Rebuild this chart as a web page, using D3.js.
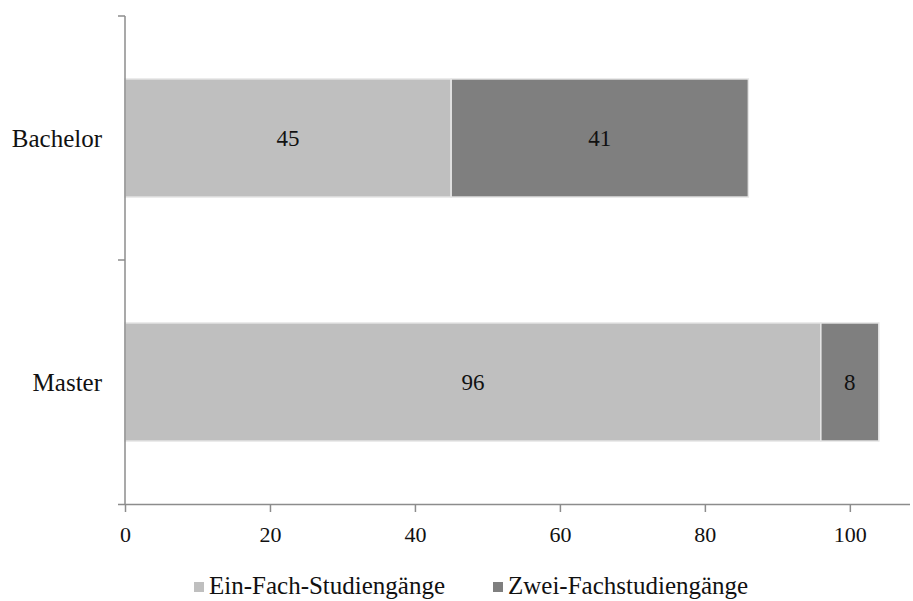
<!DOCTYPE html>
<html>
<head>
<meta charset="utf-8">
<script src="https://cdn.jsdelivr.net/npm/d3@7"></script>
<style>
  body { margin: 0; background: #fff; }
  svg text { font-family: "Liberation Serif", "Times New Roman", serif; fill: #111; }
</style>
</head>
<body>
<svg id="chart" width="913" height="601"></svg>
<script>
// data
const categories = ['Bachelor', 'Master'];
const seriesNames = ['Ein-Fach-Studiengänge', 'Zwei-Fachstudiengänge'];
const einFach = [45, 96];
const zweiFach = [41, 8];
const xTicks = [0, 20, 40, 60, 80, 100];

const colors = ['#bfbfbf', '#7f7f7f'];
const AXIS = '#8c8c8c';
const FONT = '"Liberation Serif", "Times New Roman", serif';

const svg = d3.select('svg#chart');

const x = d3.scaleLinear().domain([0, 108.3]).range([125, 910]);
const y = d3.scaleBand().domain(categories).range([16, 504])
  .paddingInner(0.516).paddingOuter(0.258);

// stack the two series
const rows = categories.map((c, i) => ({ cat: c, ein: einFach[i], zwei: zweiFach[i] }));
const stack = d3.stack().keys(['ein', 'zwei'])(rows);

stack.forEach((layer, li) => {
  svg.append('g')
    .selectAll('rect')
    .data(layer)
    .enter()
    .append('rect')
    .attr('x', (d) => x(d[0]))
    .attr('y', (d) => y(d.data.cat))
    .attr('width', (d) => x(d[1]) - x(d[0]))
    .attr('height', y.bandwidth())
    .attr('fill', colors[li])
    .attr('stroke', '#e6e6e6')
    .attr('stroke-width', 1.5);

  svg.append('g')
    .selectAll('text')
    .data(layer)
    .enter()
    .append('text')
    .attr('x', (d) => (x(d[0]) + x(d[1])) / 2)
    .attr('y', (d) => y(d.data.cat) + y.bandwidth() / 2)
    .attr('dy', '0.35em')
    .attr('text-anchor', 'middle')
    .attr('font-family', FONT)
    .attr('font-size', '23px')
    .text((d) => d[1] - d[0]);
});

// x axis
const xAxis = svg.append('g')
  .attr('transform', 'translate(0,504)')
  .call(d3.axisBottom(x).tickValues(xTicks).tickSize(8).tickPadding(14).tickSizeOuter(0));
xAxis.attr('font-family', FONT);
xAxis.select('.domain').attr('stroke', AXIS).attr('stroke-width', 1.5)
  .attr('d', 'M118,0.5H910');
xAxis.selectAll('.tick line').attr('stroke', AXIS).attr('stroke-width', 1.5);
xAxis.selectAll('.tick text').attr('font-size', '22px').attr('fill', '#111');

// y axis: line with ticks at the category boundaries
const yAxis = svg.append('g').attr('transform', 'translate(125,0)');
yAxis.append('line').attr('x1', 0).attr('x2', 0).attr('y1', 16).attr('y2', 504)
  .attr('stroke', AXIS).attr('stroke-width', 1.5);
const bounds = [16, y(categories[1]) - y.step() * y.paddingInner() / 2];
yAxis.selectAll('line.tk').data(bounds).enter().append('line')
  .attr('class', 'tk')
  .attr('x1', -7).attr('x2', 0).attr('y1', (d) => d).attr('y2', (d) => d)
  .attr('stroke', AXIS).attr('stroke-width', 1.5);
yAxis.selectAll('text').data(categories).enter().append('text')
  .attr('x', -23)
  .attr('y', (d) => y(d) + y.bandwidth() / 2)
  .attr('dy', '0.35em')
  .attr('text-anchor', 'end')
  .attr('font-family', FONT)
  .attr('font-size', '25px')
  .text((d) => d);

// legend
const legendX = [194, 493];
const lg = svg.append('g');
seriesNames.forEach((name, i) => {
  lg.append('rect').attr('x', legendX[i]).attr('y', 582).attr('width', 10).attr('height', 10)
    .attr('fill', colors[i]);
  lg.append('text').attr('x', legendX[i] + 15).attr('y', 594)
    .attr('font-family', FONT)
    .attr('font-size', '25px').text(name);
});
</script>
</body>
</html>
